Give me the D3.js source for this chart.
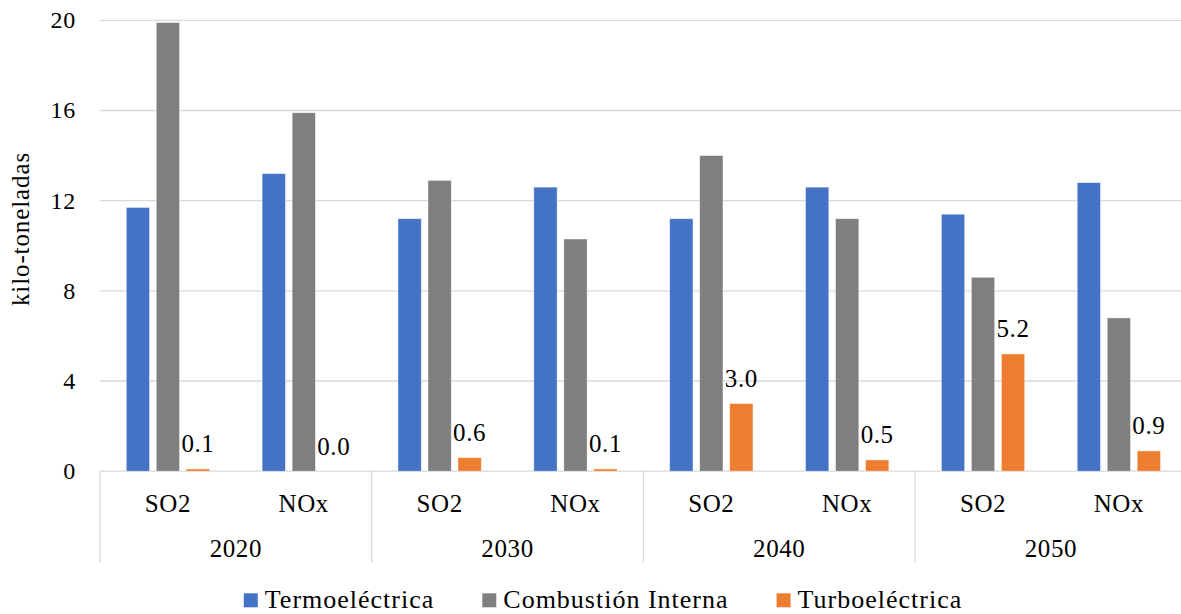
<!DOCTYPE html>
<html>
<head>
<meta charset="utf-8">
<script src="https://cdn.jsdelivr.net/npm/d3@7"></script>
<style>
  html, body { margin: 0; padding: 0; background: #fff; }
  svg text { font-family: "Liberation Serif", "Times New Roman", serif; fill: #000; }
</style>
</head>
<body>
<svg id="chart" width="1181" height="614"></svg>
<script>
// Emisiones por año y contaminante (kilo-toneladas)
const years = ["2020", "2030", "2040", "2050"];
const pollutants = ["SO2", "NOx"];
const seriesNames = ["Termoeléctrica", "Combustión Interna", "Turboeléctrica"];
const seriesColors = ["#4472C4", "#7F7F7F", "#ED7D31"];

// Values in order: 2020 SO2, 2020 NOx, 2030 SO2, 2030 NOx, 2040 SO2, 2040 NOx, 2050 SO2, 2050 NOx
const termoelectrica = [11.7, 13.2, 11.2, 12.6, 11.2, 12.6, 11.4, 12.8];
const combustionInterna = [19.9, 15.9, 12.9, 10.3, 14.0, 11.2, 8.6, 6.8];
const turboelectrica = [0.1, 0.0, 0.6, 0.1, 3.0, 0.5, 5.2, 0.9];

const yTicks = [0, 4, 8, 12, 16, 20];

const seriesValues = [termoelectrica, combustionInterna, turboelectrica];

const svg = d3.select("#chart");

const plot = { left: 100, right: 1186.8, top: 20.3, bottom: 471.2 };

// one band per (year, pollutant) pair
const subKeys = [];
years.forEach(y => pollutants.forEach(p => subKeys.push(y + "|" + p)));

const x = d3.scaleBand().domain(subKeys).range([plot.left, plot.right]).padding(0);
const xYear = d3.scaleBand().domain(years).range([plot.left, plot.right]).padding(0);
const xSeries = d3.scaleBand().domain(seriesNames).range([0, x.bandwidth()])
  .paddingInner(0.223).paddingOuter(0.8755);
const y = d3.scaleLinear().domain([0, 20]).range([plot.bottom, plot.top]);

// horizontal gridlines
svg.append("g").selectAll("line").data(yTicks).join("line")
  .attr("x1", plot.left).attr("x2", plot.right)
  .attr("y1", d => y(d)).attr("y2", d => y(d))
  .attr("stroke", "#D9D9D9").attr("stroke-width", 1.3);

// y tick labels
svg.append("g").selectAll("text").data(yTicks).join("text")
  .attr("x", 76).attr("y", d => y(d))
  .attr("text-anchor", "end").attr("dominant-baseline", "central")
  .style("font-size", "24px").style("letter-spacing", "0.8px")
  .text(d => d);

// y axis title
svg.append("text")
  .attr("transform", "translate(29,229) rotate(-90)")
  .attr("text-anchor", "middle")
  .style("font-size", "25px").style("letter-spacing", "0.9px")
  .text("kilo-toneladas");

// category axis: group dividers
const dividers = years.map(yr => xYear(yr)).concat([plot.right]);
svg.append("g").selectAll("line").data(dividers).join("line")
  .attr("x1", d => d).attr("x2", d => d)
  .attr("y1", plot.bottom).attr("y2", 563)
  .attr("stroke", "#D9D9D9").attr("stroke-width", 1.3);

// bars
const rows = [];
subKeys.forEach((k, i) => {
  seriesNames.forEach((s, j) => {
    rows.push({ key: k, series: s, value: seriesValues[j][i], color: seriesColors[j] });
  });
});

svg.append("g").selectAll("rect").data(rows).join("rect")
  .attr("x", d => x(d.key) + xSeries(d.series))
  .attr("width", xSeries.bandwidth())
  .attr("y", d => y(d.value))
  .attr("height", d => y(0) - y(d.value))
  .attr("fill", d => d.color)
  .attr("stroke", "#fff").attr("stroke-opacity", 0.55).attr("stroke-width", 0.8);

// data labels on Turboeléctrica
const turboRows = rows.filter(d => d.series === "Turboeléctrica");
svg.append("g").selectAll("text").data(turboRows).join("text")
  .attr("x", d => x(d.key) + xSeries(d.series) + xSeries.bandwidth() / 2)
  .attr("y", d => y(d.value) - 16.5)
  .attr("text-anchor", "middle")
  .style("font-size", "25px").style("letter-spacing", "0.6px")
  .text(d => d3.format(".1f")(d.value));

// pollutant labels
svg.append("g").selectAll("text").data(subKeys).join("text")
  .attr("x", d => x(d) + x.bandwidth() / 2)
  .attr("y", 511.7)
  .attr("text-anchor", "middle")
  .style("font-size", "25px").style("letter-spacing", "0.6px")
  .text(d => d.split("|")[1]);

// year labels
svg.append("g").selectAll("text").data(years).join("text")
  .attr("x", d => xYear(d) + xYear.bandwidth() / 2)
  .attr("y", 556.7)
  .attr("text-anchor", "middle")
  .style("font-size", "25px").style("letter-spacing", "0.6px")
  .text(d => d);

// legend
const legend = svg.append("g");
const items = legend.selectAll("g").data(seriesNames).join("g");
items.append("rect")
  .attr("width", 14).attr("height", 14).attr("y", 593.3)
  .attr("fill", (d, i) => seriesColors[i]);
items.append("text")
  .attr("x", 21).attr("y", 608.3)
  .style("font-size", "26px").style("letter-spacing", "1px")
  .text(d => d);

const gap = 48;
const widths = [];
items.each(function() {
  widths.push(21 + d3.select(this).select("text").node().getComputedTextLength());
});
const total = d3.sum(widths) + gap * (widths.length - 1);
let cursor = 603 - total / 2;
items.attr("transform", (d, i) => {
  const t = "translate(" + cursor + ",0)";
  cursor += widths[i] + gap;
  return t;
});
</script>
</body>
</html>
